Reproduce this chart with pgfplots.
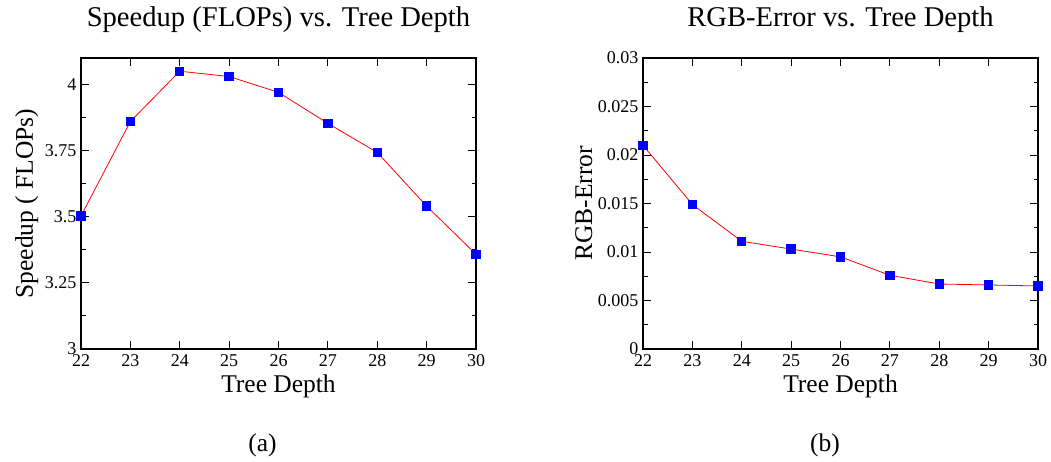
\documentclass[border=0pt]{standalone}
\usepackage{fontspec}
\setmainfont{Liberation Serif}
\usepackage{pgfplots}
\pgfplotsset{compat=1.18}
\newcommand{\tfont}{\fontsize{28.6}{32}\selectfont}
\newcommand{\lfont}{\fontsize{25.5}{30}\selectfont}
\newcommand{\kfont}{\fontsize{18}{21}\selectfont}
\pgfplotsset{
  every axis title shift=0pt,
  common/.style={
    scale only axis,
    width=395pt, height=291pt,
    anchor=south west,
    xmin=22, xmax=30,
    xtick={22,23,...,30},
    scaled y ticks=false,
    axis line style={line width=1.1pt},
    tick style={line width=0.9pt, black},
    major tick length=8pt,
    minor tick length=4.5pt,
    minor y tick num=1,
    tick align=inside,
    xtick pos=both, ytick pos=both,
    /pgf/number format/assume math mode=true,
    ticklabel style={font=\kfont},
    xticklabel style={anchor=north, inner sep=0pt, yshift=-5pt},
    yticklabel style={anchor=east, inner sep=0pt, xshift=-4.5pt},
    title style={font=\tfont, at={(axis description cs:0.5,1)}, anchor=base, yshift=31pt, inner sep=0pt},
    xlabel style={font=\lfont, at={(axis description cs:0.5,0)}, anchor=base, yshift=-44pt, inner sep=0pt},
    xlabel={Tree Depth},
    clip=false,
  },
  pl/.style={red, line width=0.8pt, mark=square*, mark size=4.2pt,
      mark options={fill=blue, draw=blue, line width=0pt}},
}
\begin{document}
\begin{tikzpicture}
\path[use as bounding box] (0,0) rectangle (1051pt,462pt);
\begin{axis}[common, at={(81pt,113pt)},
  ymin=3, ymax=4.1,
  ytick={3,3.25,3.5,3.75,4},
  yticklabels={3,3.25,3.5,3.75,4},
  title={Speedup (FLOPs) vs. Tree Depth},
  ylabel={Speedup ( FLOPs)},
  every axis y label/.style={font=\lfont, inner sep=0pt, at={(axis description cs:0,0.5)}, xshift=-48pt, rotate=90, anchor=base},
]
\addplot[pl] coordinates {(22,3.503) (23,3.860) (24,4.050) (25,4.030) (26,3.970) (27,3.853) (28,3.743) (29,3.540) (30,3.358)};
\end{axis}
\begin{axis}[common, at={(643pt,113pt)},
  ymin=0, ymax=0.03,
  ytick={0,0.005,0.01,0.015,0.02,0.025,0.03},
  yticklabels={0,0.005,0.01,0.015,0.02,0.025,0.03},
  title={RGB-Error vs. Tree Depth},
  ylabel={RGB-Error},
  every axis y label/.style={font=\lfont, inner sep=0pt, at={(axis description cs:0,0.5)}, xshift=-51pt, rotate=90, anchor=base},
]
\addplot[pl] coordinates {(22,0.0210) (23,0.0149) (24,0.0111) (25,0.0103) (26,0.0095) (27,0.0076) (28,0.0067) (29,0.0066) (30,0.0065)};
\end{axis}
\node[font=\lfont, anchor=base, inner sep=0pt] at (262.5pt,10pt) {(a)};
\node[font=\lfont, anchor=base, inner sep=0pt] at (825pt,10pt) {(b)};
\end{tikzpicture}
\end{document}
